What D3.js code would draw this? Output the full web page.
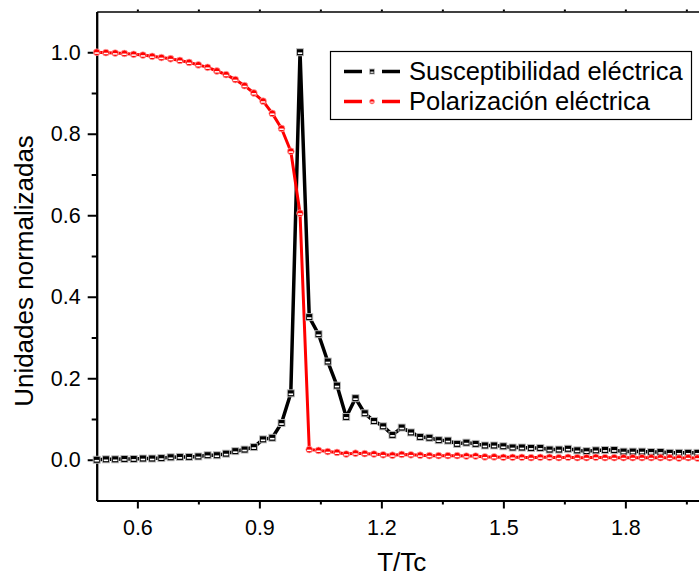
<!DOCTYPE html>
<html>
<head>
<meta charset="utf-8">
<script src="https://cdn.jsdelivr.net/npm/d3@7"></script>
<style>
  html, body { margin: 0; padding: 0; background: #fff; }
  svg { display: block; }
  text { font-family: "Liberation Sans", Arial, sans-serif; fill: #000; }
</style>
</head>
<body>
<svg id="chart" width="699" height="577"></svg>
<script>
// Reduced temperature T/Tc
const tRed = [
  0.5000, 0.5227, 0.5455, 0.5682, 0.5909, 0.6136, 0.6364, 0.6591, 0.6818, 0.7045,
  0.7273, 0.7500, 0.7727, 0.7955, 0.8182, 0.8409, 0.8636, 0.8864, 0.9091, 0.9318,
  0.9545, 0.9773, 1.0000, 1.0227, 1.0455, 1.0682, 1.0909, 1.1136, 1.1364, 1.1591,
  1.1818, 1.2045, 1.2273, 1.2500, 1.2727, 1.2955, 1.3182, 1.3409, 1.3636, 1.3864,
  1.4091, 1.4318, 1.4545, 1.4773, 1.5000, 1.5227, 1.5455, 1.5682, 1.5909, 1.6136,
  1.6364, 1.6591, 1.6818, 1.7045, 1.7273, 1.7500, 1.7727, 1.7955, 1.8182, 1.8409,
  1.8636, 1.8864, 1.9091, 1.9318, 1.9545, 1.9773, 2.0000
];

// Normalized electric susceptibility
const susceptibilidad = [
  0.000, 0.001, 0.001, 0.002, 0.002, 0.003, 0.003, 0.004, 0.006, 0.007,
  0.007, 0.008, 0.011, 0.011, 0.015, 0.021, 0.025, 0.031, 0.050, 0.054,
  0.090, 0.163, 1.000, 0.350, 0.308, 0.241, 0.182, 0.105, 0.151, 0.114,
  0.095, 0.082, 0.061, 0.079, 0.067, 0.056, 0.054, 0.048, 0.047, 0.039,
  0.042, 0.039, 0.035, 0.035, 0.033, 0.030, 0.030, 0.029, 0.029, 0.025,
  0.025, 0.027, 0.023, 0.021, 0.023, 0.024, 0.024, 0.020, 0.020, 0.020,
  0.019, 0.019, 0.017, 0.017, 0.017, 0.017, 0.016
];

// Normalized electric polarization
const polarizacion = [
  1.000, 0.999, 0.998, 0.997, 0.995, 0.993, 0.990, 0.987, 0.984, 0.980,
  0.975, 0.969, 0.963, 0.954, 0.945, 0.933, 0.918, 0.900, 0.880, 0.850,
  0.813, 0.757, 0.605, 0.025, 0.023, 0.020, 0.018, 0.014, 0.016, 0.015,
  0.014, 0.012, 0.011, 0.013, 0.012, 0.011, 0.010, 0.010, 0.010, 0.010,
  0.009, 0.009, 0.007, 0.007, 0.006, 0.006, 0.006, 0.005, 0.006, 0.006,
  0.005, 0.006, 0.005, 0.005, 0.006, 0.005, 0.005, 0.005, 0.005, 0.005,
  0.005, 0.005, 0.005, 0.004, 0.005, 0.004, 0.005
];

const xMajorTicks = [0.6, 0.9, 1.2, 1.5, 1.8];
const xMinorTicks = [0.75, 1.05, 1.35, 1.65, 1.95];
const yMajorTicks = [0.0, 0.2, 0.4, 0.6, 0.8, 1.0];
const yMinorTicks = [0.1, 0.3, 0.5, 0.7, 0.9];

const seriesNames = ["Susceptibilidad eléctrica", "Polarización eléctrica"];
const xTitle = "T/Tc";
const yTitle = "Unidades normalizadas";

const svg = d3.select("#chart");

const x = d3.scaleLinear().domain([0.5, 2.0]).range([96.7, 706.7]);
const y = d3.scaleLinear().domain([-0.1, 1.1]).range([500.5, 11.5]);

const fmt = d3.format(".1f");

// ---- axes ----
function styleAxis(g, width) {
  g.select(".domain").attr("stroke", "#000").attr("stroke-width", width);
  g.selectAll(".tick line").attr("stroke", "#000").attr("stroke-width", 2);
  g.selectAll(".tick text")
    .attr("font-family", "Liberation Sans, Arial, sans-serif")
    .attr("font-size", 21.5)
    .attr("fill", "#000");
}

// bottom
const gxMinor = svg.append("g").attr("transform", `translate(0,${y(-0.1)})`)
  .call(d3.axisBottom(x).tickValues(xMinorTicks).tickSize(4).tickFormat("").tickSizeOuter(0));
styleAxis(gxMinor, 2);
const gx = svg.append("g").attr("transform", `translate(0,${y(-0.1)})`)
  .call(d3.axisBottom(x).tickValues(xMajorTicks).tickSize(8).tickPadding(11).tickFormat(fmt).tickSizeOuter(0));
styleAxis(gx, 2);

// top (no labels)
const gxTop = svg.append("g").attr("transform", `translate(0,${y(1.1)})`)
  .call(d3.axisTop(x).tickValues(xMajorTicks.concat(xMinorTicks)).tickSize(2).tickFormat("").tickSizeOuter(0));
styleAxis(gxTop, 1.5);

// left
const gyMinor = svg.append("g").attr("transform", `translate(${x(0.5)},0)`)
  .call(d3.axisLeft(y).tickValues(yMinorTicks).tickSize(5).tickFormat("").tickSizeOuter(0));
styleAxis(gyMinor, 2);
const gy = svg.append("g").attr("transform", `translate(${x(0.5)},0)`)
  .call(d3.axisLeft(y).tickValues(yMajorTicks).tickSize(9).tickPadding(7).tickFormat(fmt).tickSizeOuter(0));
styleAxis(gy, 2);

// axis titles
svg.append("text")
  .attr("x", (x(0.5) + x(2.0)) / 2)
  .attr("y", 571)
  .attr("text-anchor", "middle")
  .attr("font-size", 26)
  .text(xTitle);

svg.append("text")
  .attr("transform", `translate(33,271) rotate(-90)`)
  .attr("text-anchor", "middle")
  .attr("font-size", 26)
  .text(yTitle);

// ---- series ----
const chiData = tRed.map((t, i) => ({ t, v: susceptibilidad[i] }));
const polData = tRed.map((t, i) => ({ t, v: polarizacion[i] }));

const line = d3.line().x(d => x(d.t)).y(d => y(d.v));

const plot = svg.append("g");

plot.append("path").datum(chiData)
  .attr("fill", "none").attr("stroke", "#000").attr("stroke-width", 3.5)
  .attr("stroke-linejoin", "round").attr("d", line);

plot.append("path").datum(polData)
  .attr("fill", "none").attr("stroke", "#ff0000").attr("stroke-width", 3)
  .attr("stroke-linejoin", "round").attr("d", line);

function squareMarker(g, cx, cy, s) {
  g.append("rect").attr("x", cx - s / 2).attr("y", cy - s / 2)
    .attr("width", s).attr("height", s)
    .attr("fill", "#000").attr("stroke", "#bdbdbd").attr("stroke-width", 0.9);
  g.append("rect").attr("x", cx - s * 0.32).attr("y", cy + s * 0.02)
    .attr("width", s * 0.64).attr("height", s * 0.24).attr("fill", "#fff");
}

function circleMarker(g, cx, cy, r) {
  g.append("circle").attr("cx", cx).attr("cy", cy).attr("r", r)
    .attr("fill", "#ff0000").attr("stroke", "#ffb0b0").attr("stroke-width", 0.7);
  g.append("rect").attr("x", cx - r * 0.65).attr("y", cy + r * 0.02)
    .attr("width", r * 1.3).attr("height", r * 0.45).attr("fill", "#fff");
}

const chiMarks = plot.append("g");
chiData.forEach(d => squareMarker(chiMarks, x(d.t), y(d.v), 7));

const polMarks = plot.append("g");
polData.forEach(d => circleMarker(polMarks, x(d.t), y(d.v), 3.4));

// ---- legend ----
const legend = svg.append("g");
legend.append("rect")
  .attr("x", 330.5).attr("y", 51.5).attr("width", 361).attr("height", 68)
  .attr("fill", "#fff").attr("stroke", "#000").attr("stroke-width", 1.2);

const legendRows = [
  { name: seriesNames[0], color: "#000", cy: 71.5, base: 79.5, kind: "square" },
  { name: seriesNames[1], color: "#ff0000", cy: 101.5, base: 110, kind: "circle" }
];
legendRows.forEach(r => {
  legend.append("line").attr("x1", 344).attr("x2", 362).attr("y1", r.cy).attr("y2", r.cy)
    .attr("stroke", r.color).attr("stroke-width", 3.5);
  legend.append("line").attr("x1", 382).attr("x2", 400).attr("y1", r.cy).attr("y2", r.cy)
    .attr("stroke", r.color).attr("stroke-width", 3.5);
  if (r.kind === "square") squareMarker(legend, 372, r.cy, 5);
  else circleMarker(legend, 372, r.cy, 2.5);
  legend.append("text").attr("x", 409).attr("y", r.base)
    .attr("font-size", 25.5).text(r.name);
});
</script>
</body>
</html>
